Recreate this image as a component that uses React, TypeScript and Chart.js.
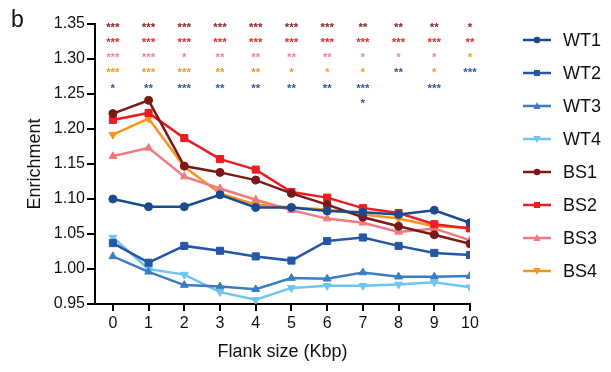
import React, { useEffect, useRef } from 'react';
import { Chart, registerables } from 'chart.js';

Chart.register(...registerables);

const flankSizes = [0, 1, 2, 3, 4, 5, 6, 7, 8, 9, 10];
const yTickValues = [0.95, 1.0, 1.05, 1.1, 1.15, 1.2, 1.25, 1.3, 1.35];

const wt1 = [1.100, 1.089, 1.089, 1.106, 1.088, 1.088, 1.083, 1.081, 1.078, 1.084, 1.066];
const wt2 = [1.037, 1.009, 1.033, 1.026, 1.018, 1.012, 1.040, 1.045, 1.033, 1.023, 1.020];
const wt3 = [1.018, 0.996, 0.977, 0.975, 0.971, 0.987, 0.986, 0.995, 0.989, 0.989, 0.990];
const wt4 = [1.045, 1.000, 0.992, 0.967, 0.956, 0.973, 0.976, 0.976, 0.978, 0.981, 0.974];
const bs1 = [1.222, 1.241, 1.147, 1.138, 1.127, 1.108, 1.092, 1.074, 1.061, 1.049, 1.036];
const bs2 = [1.213, 1.223, 1.187, 1.157, 1.142, 1.110, 1.102, 1.087, 1.080, 1.064, 1.058];
const bs3 = [1.161, 1.173, 1.132, 1.115, 1.099, 1.084, 1.072, 1.066, 1.053, 1.058, 1.041];
const bs4 = [1.192, 1.215, 1.146, 1.108, 1.092, 1.088, 1.085, 1.078, 1.072, 1.061, 1.059];

// significance marks per flank size (stacked from the top, empty = none)
const starsBS1 = ['***', '***', '***', '***', '***', '***', '***', '**', '**', '**', '*'];
const starsBS2 = ['***', '***', '***', '***', '***', '***', '***', '***', '***', '***', '**'];
const starsBS3 = ['***', '***', '*', '**', '**', '**', '**', '*', '*', '*', ''];
const starsBS4 = ['***', '***', '***', '**', '**', '*', '*', '*', '', '*', '*'];
const starsWT = ['*', '**', '***', '**', '**', '**', '**', '***', '**', '***', '***'];
const starsWTb = ['', '', '', '', '', '', '', '*', '', '', ''];

const FONT = '"Liberation Sans", Arial, Helvetica, sans-serif';

const seriesDefs = [
  { label: 'WT1', data: wt1, color: '#1A4B8C', style: 'circle', rot: 0, r: 4 },
  { label: 'WT2', data: wt2, color: '#2457A6', style: 'rect', rot: 0, r: 5 },
  { label: 'WT3', data: wt3, color: '#3B7CC3', style: 'triangle', rot: 0, r: 4.5 },
  { label: 'WT4', data: wt4, color: '#6DC6F1', style: 'triangle', rot: 180, r: 4.5 },
  { label: 'BS1', data: bs1, color: '#7C1818', style: 'circle', rot: 0, r: 4 },
  { label: 'BS2', data: bs2, color: '#EC1C24', style: 'rect', rot: 0, r: 5 },
  { label: 'BS3', data: bs3, color: '#F07A80', style: 'triangle', rot: 0, r: 4.5 },
  { label: 'BS4', data: bs4, color: '#F7941E', style: 'triangle', rot: 180, r: 4.5 },
];

const starGroups = [
  { marks: starsBS1, color: '#8A2424' },
  { marks: starsBS2, color: '#E8262E' },
  { marks: starsBS3, color: '#F3878D' },
  { marks: starsBS4, color: '#F39A2B' },
  { marks: starsWT, color: '#2D5A9C' },
  { marks: starsWTb, color: '#2D5A9C' },
];

function drawMarker(ctx: CanvasRenderingContext2D, style: string, rot: number, x: number, y: number, r: number, color: string) {
  ctx.fillStyle = color;
  ctx.beginPath();
  if (style === 'circle') {
    ctx.arc(x, y, r, 0, Math.PI * 2);
  } else if (style === 'rect') {
    ctx.rect(x - r, y - r, 2 * r, 2 * r);
  } else {
    const dir = rot === 180 ? -1 : 1;
    const h = r * 1.1;
    ctx.moveTo(x, y - dir * h * 1.1);
    ctx.lineTo(x + h, y + dir * h * 0.8);
    ctx.lineTo(x - h, y + dir * h * 0.8);
    ctx.closePath();
  }
  ctx.fill();
}

const decorPlugin = {
  id: 'decor',
  afterDraw(chart: any) {
    const ctx: CanvasRenderingContext2D = chart.ctx;
    const xs = chart.scales.x;
    const ys = chart.scales.y;
    ctx.save();
    // panel letter
    ctx.fillStyle = '#111';
    ctx.font = `23px ${FONT}`;
    ctx.textAlign = 'left';
    ctx.textBaseline = 'alphabetic';
    ctx.fillText('b', 11, 27);

    // significance stars
    const top = ys.getPixelForValue(1.35);
    ctx.font = `bold 11.5px ${FONT}`;
    ctx.textAlign = 'center';
    flankSizes.forEach((fx, i) => {
      const px = xs.getPixelForValue(fx);
      let row = 0;
      starGroups.forEach((g) => {
        const m = g.marks[i];
        if (!m) return;
        ctx.fillStyle = g.color;
        ctx.fillText(m, px, top + row * 15.3 + 6.5);
        row++;
      });
    });

    // legend
    chart.data.datasets.forEach((ds: any, i: number) => {
      const y = 40 + i * 33;
      ctx.strokeStyle = ds.borderColor;
      ctx.lineWidth = 2.5;
      ctx.beginPath();
      ctx.moveTo(523, y);
      ctx.lineTo(551, y);
      ctx.stroke();
      const def = seriesDefs[i];
      drawMarker(ctx, def.style, def.rot, 537, y, def.style === 'rect' ? 3 : 3.3, ds.borderColor);
      ctx.fillStyle = '#111';
      ctx.font = `18px ${FONT}`;
      ctx.textAlign = 'left';
      ctx.textBaseline = 'middle';
      ctx.fillText(ds.label, 563, y + 1);
      ctx.textBaseline = 'alphabetic';
    });
    ctx.restore();
  },
};

export default function App() {
  const ref = useRef<HTMLCanvasElement | null>(null);
  useEffect(() => {
    if (!ref.current) return;
    const chart = new Chart(ref.current, {
      type: 'line',
      data: {
        datasets: seriesDefs.map((s) => ({
          label: s.label,
          data: flankSizes.map((x, i) => ({ x, y: s.data[i] })),
          borderColor: s.color,
          backgroundColor: s.color,
          pointBackgroundColor: s.color,
          pointBorderColor: s.color,
          pointStyle: s.style as any,
          pointRotation: s.rot,
          pointRadius: s.r,
          pointBorderWidth: 1,
          borderWidth: 2.5,
          tension: 0,
          fill: false,
        })),
      },
      options: {
        animation: false,
        responsive: true,
        maintainAspectRatio: false,
        layout: { padding: { top: 24, right: 141, left: 0, bottom: 0 } },
        plugins: { legend: { display: false }, tooltip: { enabled: false } },
        scales: {
          x: {
            type: 'linear',
            min: -0.5,
            max: 10,
            afterBuildTicks: (scale: any) => {
              scale.ticks = flankSizes.map((v) => ({ value: v }));
            },
            afterFit: (scale: any) => {
              scale.height = 68;
            },
            ticks: {
              color: '#111',
              font: { family: FONT, size: 16 },
              padding: 3,
              maxRotation: 0,
              callback: (v: any) => String(v),
            },
            grid: { display: true, drawOnChartArea: false, drawTicks: true, tickLength: 7, color: '#000', lineWidth: 2 },
            border: { display: true, color: '#000', width: 2 },
            title: {
              display: true,
              text: 'Flank size (Kbp)',
              color: '#111',
              font: { family: FONT, size: 18 },
              padding: { top: 0, bottom: 9 },
            },
          },
          y: {
            type: 'linear',
            min: 0.95,
            max: 1.35,
            afterBuildTicks: (scale: any) => {
              scale.ticks = yTickValues.map((v) => ({ value: v }));
            },
            afterFit: (scale: any) => {
              scale.width = 95;
            },
            ticks: {
              color: '#111',
              font: { family: FONT, size: 16 },
              padding: 2,
              callback: (v: any) => Number(v).toFixed(2),
            },
            grid: { display: true, drawOnChartArea: false, drawTicks: true, tickLength: 8, color: '#000', lineWidth: 2 },
            border: { display: true, color: '#000', width: 2 },
            title: {
              display: true,
              text: 'Enrichment',
              color: '#111',
              font: { family: FONT, size: 18 },
              padding: { top: 24, bottom: 0 },
            },
          },
        },
      },
      plugins: [decorPlugin],
    });
    return () => chart.destroy();
  }, []);
  return (
    <div style={{ position: 'absolute', left: 0, top: 0, width: 611, height: 372, background: '#fff' }}>
      <canvas ref={ref} />
    </div>
  );
}
